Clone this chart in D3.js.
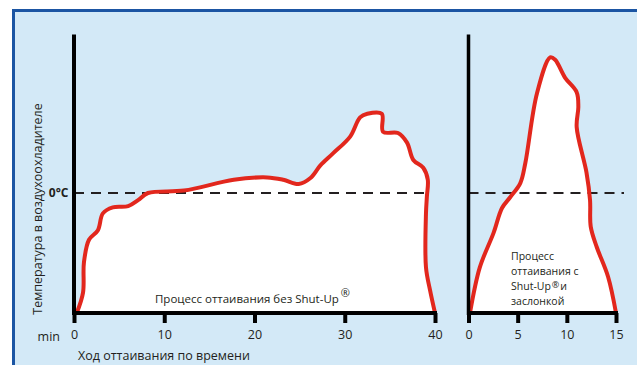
<!DOCTYPE html>
<html><head><meta charset="utf-8">
<script src="https://cdn.jsdelivr.net/npm/d3@7"></script>
<style>html,body{margin:0;padding:0;background:#fff;}svg{display:block;}</style>
</head><body>
<svg id="c" width="637" height="365"></svg>
<script>
// ---- data ----
const leftTicks = [0, 10, 20, 30, 40];
const rightTicks = [0, 5, 10, 15];
// relative temperature units: 0 = 0°C, baseline = -10
const leftTime = [0.3, 1.0, 1.1, 1.66, 2.65, 3.2, 4.3, 6.0, 7.1, 8.2, 12.2, 17.7, 21.4, 23.2, 24.9, 26.2, 27.3, 28.7, 30.6, 31.7, 32.5, 34.1, 34.25, 35.9, 36.9, 37.6, 38.7, 39.2, 39.1, 39.0, 39.0, 39.45, 40.0];
const leftTemp = [-10, -8.3, -5.8, -3.9, -3.1, -1.7, -1.2, -1.1, -0.6, 0, 0.2, 1.1, 1.3, 1.1, 0.75, 1.25, 2.3, 3.3, 4.7, 6.3, 6.6, 6.6, 5.1, 5.0, 4.2, 2.75, 2.1, 1.1, -0.3, -1.7, -6.2, -8.1, -10];
const rightTime = [0.15, 1.15, 2.56, 3.41, 4.26, 5.27, 5.78, 6.96, 8.31, 8.81, 9.83, 11.0, 11.17, 11.0, 12.0, 12.36, 12.43, 13.04, 14.2, 15.0];
const rightTemp = [-10, -6.2, -3.3, -1.25, -0.33, 0.83, 2.5, 8.3, 11.3, 11.1, 9.6, 8.4, 7.2, 5.5, 1.7, -0.6, -2.8, -4.5, -7.0, -10];
const zeroLabel = "0°C";
const yTitle = "Температура в воздухоохладителе";
const xTitle = "Ход оттаивания по времени";
const minLabel = "min";
const leftNote = "Процесс оттаивания без Shut-Up";
const rightNote = ["Процесс", "оттаивания с", "Shut-Up", "заслонкой"];

// ---- drawing ----
const svg = d3.select("#c");
const RED = "#e2271d", BLUE = "#1b55a3", BG = "#d3e9f7", INK = "#231f20";
const FONT = "'Open Sans', 'Noto Sans', sans-serif";

svg.append("rect").attr("x", 13.5).attr("y", 10.5).attr("width", 640).attr("height", 370)
  .attr("fill", BG).attr("stroke", BLUE).attr("stroke-width", 3);

const y = d3.scaleLinear().domain([-10, 13.2]).range([313, 34.6]);
const xL = d3.scaleLinear().domain([0, 40]).range([74, 435]);
const xR = d3.scaleLinear().domain([0, 15]).range([468.5, 616]);

function panel(x, times, temps, ticks, dashEnd, axisW) {
  const pts = times.map((t, i) => [t, temps[i]]);
  const line = d3.line().x(d => x(d[0])).y(d => y(d[1])).curve(d3.curveCatmullRom.alpha(0.5));
  svg.append("path").attr("d", line(pts) + "Z").attr("fill", "#fff").attr("stroke", "none");
  svg.append("line").attr("x1", x(0)).attr("x2", dashEnd).attr("y1", y(0)).attr("y2", y(0))
    .attr("stroke", INK).attr("stroke-width", 2).attr("stroke-dasharray", "10,7");
  svg.append("path").attr("d", line(pts)).attr("fill", "none").attr("stroke", RED)
    .attr("stroke-width", 4).attr("stroke-linejoin", "round").attr("stroke-linecap", "round");
  svg.append("line").attr("x1", x(0)).attr("x2", x(0)).attr("y1", y(13.2)).attr("y2", y(-10) + 2)
    .attr("stroke", "#000").attr("stroke-width", axisW);
  const ax = svg.append("g").attr("transform", `translate(0,${y(-10)})`)
    .call(d3.axisBottom(x).tickValues(ticks).tickSize(10).tickPadding(7).tickFormat(d3.format("d")));
  ax.select(".domain").attr("stroke", "#000").attr("stroke-width", 4)
    .attr("d", `M${x(0) - 1.5},0H${x.range()[1] + 2}`);
  ax.selectAll(".tick line").attr("stroke", "#000").attr("stroke-width", 4);
  ax.selectAll(".tick text").attr("font-family", FONT).attr("font-size", 12.5).attr("fill", INK);
}

panel(xL, leftTime, leftTemp, leftTicks, 430, 4);
panel(xR, rightTime, rightTemp, rightTicks, 624, 3.5);

svg.append("text").attr("x", 68.5).attr("y", y(0)).attr("dy", "0.35em").attr("text-anchor", "end")
  .attr("font-family", FONT).attr("font-weight", "bold").attr("font-size", 12).attr("fill", INK).text(zeroLabel);
svg.append("text").attr("transform", `translate(42,${209}) rotate(-90)`).attr("text-anchor", "middle")
  .attr("font-family", FONT).attr("font-size", 12.5).attr("fill", INK).text(yTitle);
svg.append("text").attr("x", 60).attr("y", 340.5).attr("text-anchor", "end")
  .attr("font-family", FONT).attr("font-size", 12.5).attr("fill", INK).text(minLabel);
svg.append("text").attr("x", 78).attr("y", 360).attr("font-family", FONT).attr("font-size", 12.5)
  .attr("fill", INK).text(xTitle);

const ln = svg.append("text").attr("x", 155).attr("y", 303).attr("font-family", FONT)
  .attr("font-size", 11.5).attr("fill", INK);
ln.append("tspan").text(leftNote);
ln.append("tspan").attr("dy", -6).attr("dx", 2).attr("font-size", 11).text("®");

rightNote.forEach((s, i) => {
  const t = svg.append("text").attr("x", 511).attr("y", 260 + i * 15).attr("font-family", FONT)
    .attr("font-size", 10.5).attr("fill", INK);
  t.append("tspan").text(s);
  if (i === 2) {
    t.append("tspan").attr("dy", -2).attr("dx", 1).attr("font-size", 9).text("®");
    t.append("tspan").attr("dy", 2).attr("dx", 1).text("и");
  }
});
</script>
</body></html>
